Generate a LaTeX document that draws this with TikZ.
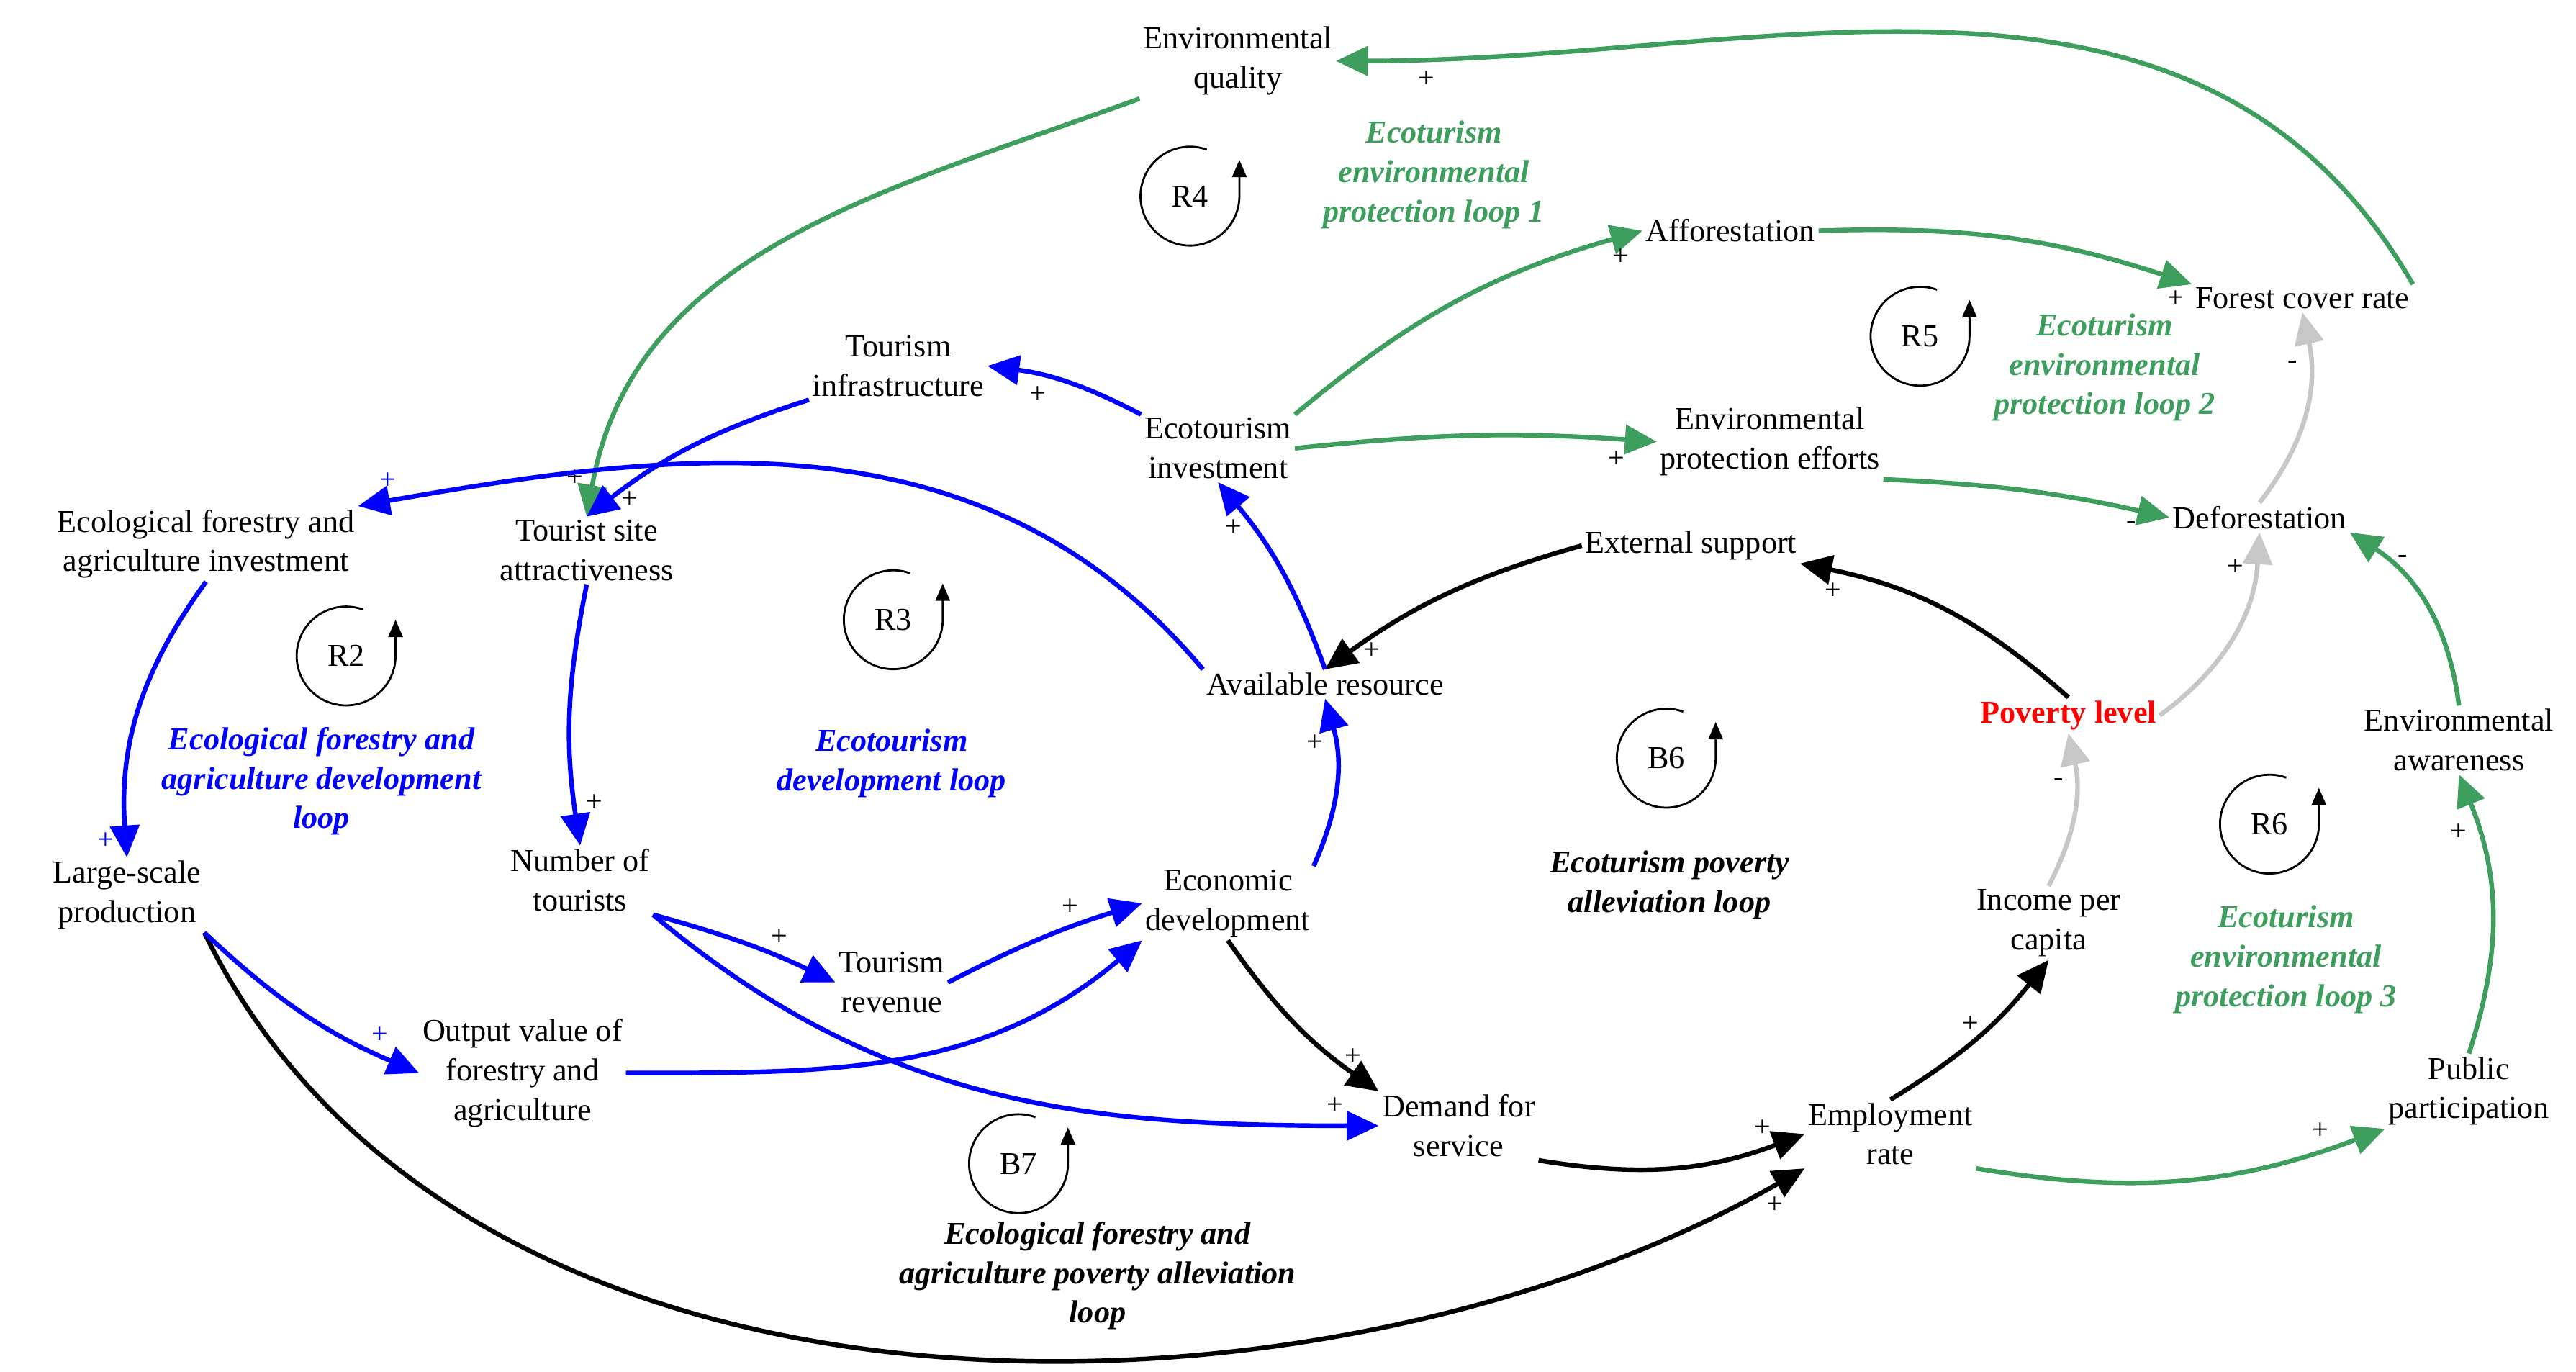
\documentclass[tikz,border=0pt]{standalone}
\usepackage{fontspec}
\setmainfont{Liberation Serif}
\usetikzlibrary{arrows.meta}
\definecolor{loopgreen}{rgb}{0.24,0.62,0.37}
\definecolor{loopgray}{rgb}{0.78,0.78,0.78}
\tikzset{
  var/.style={align=center,inner sep=1pt,font=\fontsize{11}{13.6}\selectfont},
  looptxt/.style={align=center,font=\fontsize{11}{13.6}\selectfont\bfseries\itshape},
  sgn/.style={font=\fontsize{10}{12}\selectfont,text=black},
  lnk/.style={line width=1.6pt,-{Triangle[length=11pt,width=10pt]}},
  gl/.style={lnk,loopgreen},
  bl/.style={lnk,blue},
  kl/.style={lnk,black},
  yl/.style={lnk,loopgray}
}
\newcommand{\loopmark}[3]{%
  \draw[line width=0.7pt,-{Triangle[length=6pt,width=5pt]}] (#1,#2)++(70:30) arc (70:360:30) -- ++(0,22);
  \node[var] at (#1,#2) {#3};}
\begin{document}
\begin{tikzpicture}[x=0.02cm,y=0.02cm]
\useasboundingbox (0,0) rectangle (1563,832);
% variables
\node[var] (envq) at (751,795) {Environmental\\quality};
\node[var] (affor) at (1050,692) {Afforestation};
\node[var] (forest) at (1397,651) {Forest cover rate};
\node[var] (tinf) at (545,610) {Tourism\\infrastructure};
\node[var] (ecoinv) at (739,560) {Ecotourism\\investment};
\node[var] (envprot) at (1074,564) {Environmental\\protection efforts};
\node[var] (defor) at (1371,518) {Deforestation};
\node[var] (efainv) at (125,502) {Ecological forestry and\\agriculture investment};
\node[var] (attract) at (356,498) {Tourist site\\attractiveness};
\node[var] (extsup) at (1026,501) {External support};
\node[var] (avres) at (804,417) {Available resource};
\node[var,text=red,font=\fontsize{11}{13.6}\selectfont\bfseries] (pov) at (1255,398) {Poverty level};
\node[var] (envaw) at (1492,383) {Environmental\\awareness};
\node[var] (lsp) at (77,289) {Large-scale\\production};
\node[var] (ntour) at (352,298) {Number of\\tourists};
\node[var] (ecodev) at (745,284) {Economic\\development};
\node[var] (income) at (1243,272) {Income per\\capita};
\node[var] (trev) at (541,236) {Tourism\\revenue};
\node[var] (outv) at (317,181) {Output value of\\forestry and\\agriculture};
\node[var] (demand) at (885,149) {Demand for\\service};
\node[var] (employ) at (1147,144) {Employment\\rate};
\node[var] (public) at (1498,170) {Public\\participation};
% loop names
\node[looptxt,text=loopgreen] (lab1) at (870,726) {Ecoturism\\environmental\\protection loop 1};
\node[looptxt,text=loopgreen] (lab2) at (1277,609) {Ecoturism\\environmental\\protection loop 2};
\node[looptxt,text=loopgreen] (lab3) at (1387,250) {Ecoturism\\environmental\\protection loop 3};
\node[looptxt,text=blue] (lab4) at (195,358) {Ecological forestry and\\agriculture development\\loop};
\node[looptxt,text=blue] (lab5) at (541,369) {Ecotourism\\development loop};
\node[looptxt] (lab6) at (1013,295) {Ecoturism poverty\\alleviation loop};
\node[looptxt] (lab7) at (666,58) {Ecological forestry and\\agriculture poverty alleviation\\loop};
% loop marks
\loopmark{722}{713}{R4}
\loopmark{1165}{628}{R5}
\loopmark{542}{456}{R3}
\loopmark{210}{434}{R2}
\loopmark{1011}{372}{B6}
\loopmark{1377}{332}{R6}
\loopmark{618}{126}{B7}
% green links
\draw[gl] (forest.north east) to[out=120,in=0] node[pos=0.93,below,sgn]{+} (envq.east);
\draw[gl] (envq.south west) to[out=200,in=80] node[pos=0.95,left,sgn]{+} (attract.north);
\draw[gl] (ecoinv.north east) to[bend left=12] node[pos=0.95,below,sgn]{+} (affor.west);
\draw[gl] (affor.east) to[bend left=10] node[pos=0.96,below,sgn]{+} (forest.north west);
\draw[gl] (ecoinv.east) to[bend left=5] node[pos=0.9,below,sgn]{+} (envprot.west);
\draw[gl] (envprot.south east) to[bend left=5] node[pos=0.88,below,sgn]{-} (defor.west);
\draw[gl] (envaw.north) to[bend right=25] node[pos=0.8,right,sgn]{-} (defor.south east);
\draw[gl] (public.north) to[bend right=20] node[pos=0.8,left,sgn]{+} (envaw.south);
\draw[gl] (employ.south east) to[bend right=15] node[pos=0.85,above,sgn]{+} (public.south west);
% gray links
\draw[yl] (defor.north) to[bend right=25] node[pos=0.75,left,sgn]{-} (forest.south);
\draw[yl] (pov.east) to[bend right=25] node[pos=0.85,left,sgn]{+} (defor.south);
\draw[yl] (income.north) to[bend right=20] node[pos=0.7,left,sgn]{-} (pov.south);
% black links
\draw[kl] (employ.north) to[bend right=10] node[pos=0.6,left,sgn]{+} (income.south);
\draw[kl] (pov.north) to[bend right=15] node[pos=0.9,below,sgn]{+} (extsup.south east);
\draw[kl] (extsup.west) to[bend right=10] node[pos=0.9,right,sgn]{+} (avres.north);
\draw[kl] (ecodev.south) to[bend right=10] node[pos=0.75,right,sgn]{+} (demand.north west);
\draw[kl] (demand.south east) to[bend right=15] node[pos=0.85,above,sgn]{+} (employ.west);
\draw[kl] (lsp.south east) .. controls (280,-55) and (800,-45) .. node[pos=0.98,below,sgn]{+} (employ.south west);
% blue links
\draw[bl] (avres.north west) to[out=130,in=10] node[pos=0.97,above,sgn,text=blue]{+} (efainv.north east);
\draw[bl] (efainv.south) to[bend right=20] node[pos=0.95,left,sgn,text=blue]{+} (lsp.north);
\draw[bl] (lsp.south east) to[bend right=10] node[pos=0.85,above,sgn,text=blue]{+} (outv.west);
\draw[bl] (outv.east) to[out=0,in=220] (ecodev.south west);
\draw[bl] (ntour.south east) to[bend left=5] node[pos=0.7,above,sgn]{+} (trev.west);
\draw[bl] (trev.east) to[bend left=5] node[pos=0.65,above,sgn]{+} (ecodev.west);
\draw[bl] (ntour.south east) to[out=-40,in=180] node[pos=0.95,above,sgn]{+} (demand.west);
\draw[bl] (attract.south) to[bend right=10] node[pos=0.85,right,sgn]{+} (ntour.north);
\draw[bl] (tinf.south west) to[bend right=10] node[pos=0.9,right,sgn]{+} (attract.north);
\draw[bl] (ecoinv.north west) to[bend right=10] node[pos=0.7,below,sgn]{+} (tinf.east);
\draw[bl] (avres.north) to[bend right=10] node[pos=0.75,left,sgn]{+} (ecoinv.south);
\draw[bl] (ecodev.north east) to[bend right=20] node[pos=0.75,left,sgn]{+} (avres.south);
\end{tikzpicture}
\end{document}
